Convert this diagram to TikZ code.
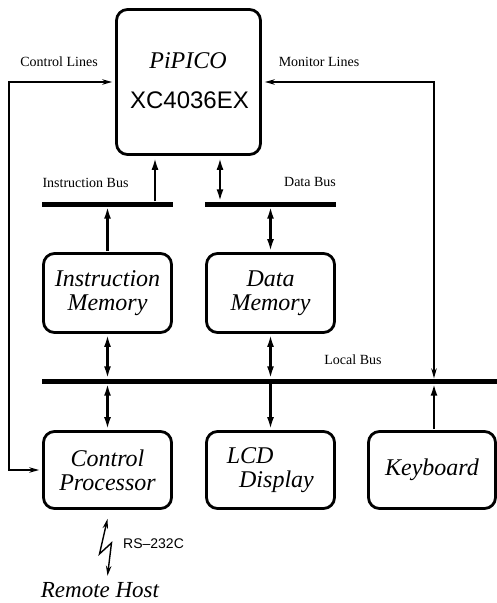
\documentclass[tikz,border=0pt]{standalone}
\usepackage{fontspec}
\setmainfont{Liberation Serif}
\newfontfamily\helv{Liberation Sans}
\usetikzlibrary{arrows.meta}

\begin{document}
\begin{tikzpicture}[x=1pt,y=-1pt,
  block/.style={draw, line width=2.8pt, rounded corners=11pt, inner sep=0pt,
    align=center, font=\fontsize{24}{24}\selectfont\itshape},
  busbar/.style={fill=black, inner sep=0pt, minimum height=5pt},
  link/.style={line width=2.2pt, -{Latex[length=12pt,width=7pt]}},
  dlink/.style={line width=2.2pt, {Latex[length=12pt,width=7pt]}-{Latex[length=12pt,width=7pt]}},
  sig/.style={line width=1.4pt, {Stealth[length=10pt,width=5.5pt]}-{Stealth[length=10pt,width=5.5pt]}},
  lbl/.style={inner sep=0pt, font=\fontsize{14}{14}\selectfont}]
\useasboundingbox (0,0) rectangle (497,603);

% FPGA block
\node[block, minimum width=144pt, minimum height=145pt] (pico) at (188.5,82) {};
\node[inner sep=0pt, font=\fontsize{24}{24}\selectfont\itshape] (pname) at (188,60.5) {PiPICO};
\node[inner sep=0pt, font=\fontsize{24}{24}\selectfont\helv] (pchip) at (189.5,100.5) {XC4036EX};

% buses
\node[busbar, minimum width=131pt] (ibus) at (107.5,204) {};
\node[busbar, minimum width=131pt] (dbus) at (270.5,204) {};
\node[busbar, minimum width=455pt] (lbus) at (269.5,381) {};

% memories
\node[block, minimum width=128pt, minimum height=79pt] (im) at (107.5,293) {Instruction\\Memory};
\node[block, minimum width=128pt, minimum height=79pt] (dm) at (270.5,293) {Data\\Memory};

% peripherals
\node[block, minimum width=128pt, minimum height=77pt] (cp) at (107.5,470) {Control\\Processor};
\node[block, minimum width=128pt, minimum height=77pt] (lcd) at (270.5,470) {LCD\hspace*{1.7em}\\\hspace*{0.5em}Display};
\node[block, minimum width=127pt, minimum height=77pt] (kb) at (432,470) {Keyboard};

% labels
\node[lbl] (lctl) at (59,62) {Control Lines};
\node[lbl] (lmon) at (319,62) {Monitor Lines};
\node[lbl] (libus) at (85.5,183) {Instruction Bus};
\node[lbl] (ldbus) at (310,182) {Data Bus};
\node[lbl] (llbus) at (353,360) {Local Bus};
\node[inner sep=0pt, anchor=base, font=\fontsize{23}{23}\selectfont\itshape] (rh) at (100,597) {Remote Host};
\node[inner sep=0pt, anchor=west, font=\fontsize{14}{14}\selectfont\helv] (rs) at (123,544) {RS–232C};

% bus connections
\draw[link, shorten >=2pt] (155,0 |- ibus.north) -- (155,0 |- pico.south);
\draw[dlink, shorten <=2pt] (220,0 |- pico.south) -- (220,0 |- dbus.north);
\draw[link, shorten <=1pt] (im.north) -- (im.north |- ibus.south);
\draw[dlink, shorten >=1pt] (dbus.south -| dm.north) -- (dm.north);
\draw[dlink, shorten <=1pt] (im.south) -- (im.south |- lbus.north);
\draw[dlink, shorten <=1pt] (dm.south) -- (dm.south |- lbus.north);
\draw[dlink, shorten >=1pt] (lbus.south -| cp.north) -- (cp.north);
\draw[link, shorten >=1pt] (lbus.south -| lcd.north) -- (lcd.north);
\draw[link, shorten <=1pt] ([xshift=2pt]kb.north) -- ([xshift=2pt]kb.north |- lbus.south);

% control and monitor lines
\coordinate (cl) at (9,0 |- pico.west);
\draw[sig, shorten <=3pt, shorten >=3pt] (pico.west) -- (cl) |- (cp.west);
\draw[sig, shorten <=3pt] (pico.east) -| ([xshift=2pt]kb.north |- lbus.north);

% serial link
\draw[sig] ([yshift=-9pt]cp.south) -- ++(-8,35) -- ++(12,-11) -- ([yshift=6pt]rh.north -| cp.south);
\end{tikzpicture}
\end{document}
